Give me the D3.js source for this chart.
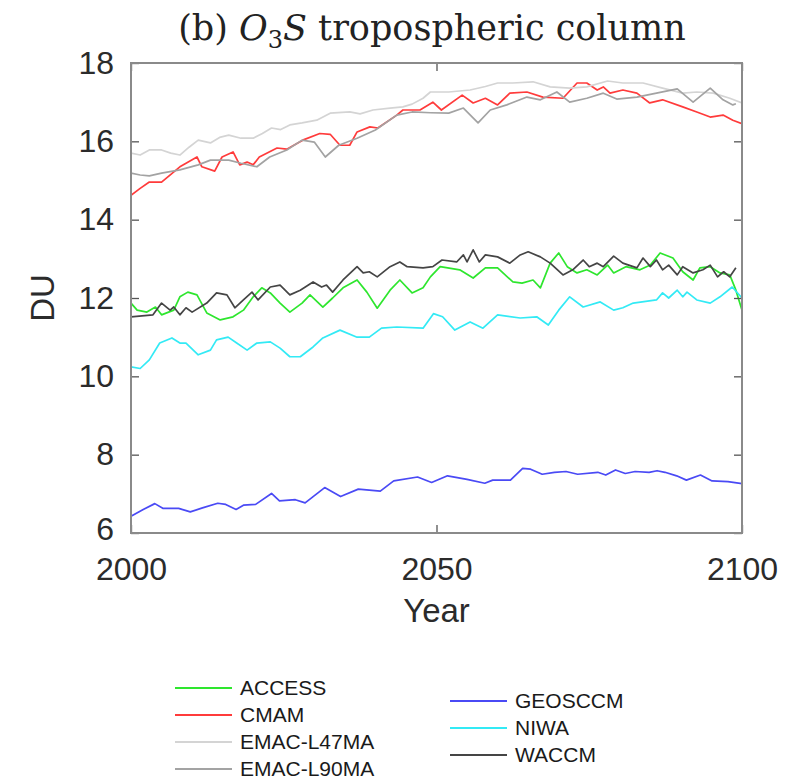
<!DOCTYPE html>
<html>
<head>
<meta charset="utf-8">
<script src="https://cdn.jsdelivr.net/npm/d3@7"></script>
<style>
  html, body { margin: 0; padding: 0; background: #fff; }
  svg { display: block; }
</style>
</head>
<body>
<svg id="chart"></svg>
<script>
// [year, DU]
var access = [[2000,11.87],[2001,11.69],[2002.6,11.64],[2004,11.77],[2005,11.57],[2007,11.69],[2008,12.03],[2009.3,12.15],[2010.8,12.08],[2012.4,11.62],[2014.6,11.44],[2016.7,11.52],[2018.4,11.69],[2020,12.03],[2021.4,12.26],[2022.8,12.13],[2024.4,11.87],[2026,11.64],[2028,11.87],[2029.3,12.08],[2031.4,11.77],[2033,12.0],[2034.7,12.26],[2037,12.46],[2038.6,12.15],[2040.3,11.74],[2042.4,12.2],[2044,12.46],[2046,12.13],[2047.8,12.26],[2049,12.54],[2050.6,12.8],[2053.8,12.72],[2056,12.51],[2058,12.77],[2060,12.77],[2062.5,12.41],[2064,12.38],[2065.8,12.46],[2067,12.26],[2068.6,12.89],[2070,13.15],[2071.4,12.8],[2073,12.64],[2074.6,12.72],[2076.3,12.59],[2078,12.84],[2079,12.64],[2081,12.8],[2083.3,12.72],[2085,12.84],[2086.6,13.15],[2088.7,13.02],[2090.3,12.67],[2092,12.46],[2093.1,12.77],[2094.8,12.8],[2096.4,12.64],[2098,12.59],[2099,12.2],[2100,11.69]];

var cmam = [[2000,14.62],[2001.5,14.8],[2003,14.96],[2005,14.96],[2008,15.35],[2010.8,15.6],[2011.6,15.35],[2013.7,15.24],[2014.9,15.6],[2016.7,15.73],[2017.8,15.4],[2019,15.47],[2020,15.4],[2021,15.6],[2023.9,15.83],[2025.5,15.8],[2028.1,16.03],[2030.9,16.2],[2032.6,16.18],[2034.2,15.9],[2035.8,15.9],[2037,16.24],[2039.1,16.37],[2040.4,16.34],[2043.5,16.67],[2044.5,16.8],[2047.3,16.8],[2049.4,17.0],[2050.8,16.8],[2054.2,17.18],[2056,16.98],[2058,17.1],[2060,16.93],[2062,17.23],[2064.8,17.26],[2067.4,17.13],[2070.7,17.1],[2073,17.49],[2074.6,17.49],[2076.3,17.31],[2077.3,17.39],[2078.4,17.23],[2080.5,17.31],[2082.8,17.23],[2084.9,16.98],[2087,17.06],[2090.3,16.88],[2092.6,16.75],[2094.8,16.62],[2096.9,16.67],[2098.5,16.54],[2100,16.45]];

var emacL47 = [[2000,15.7],[2001.5,15.65],[2003,15.78],[2005,15.78],[2006.5,15.7],[2008,15.65],[2009.5,15.85],[2011,16.03],[2013,15.96],[2014.5,16.1],[2016,16.16],[2018,16.08],[2020,16.08],[2021.5,16.2],[2023,16.34],[2024.5,16.3],[2026,16.42],[2028,16.47],[2030.4,16.54],[2032.6,16.72],[2035.8,16.75],[2037.5,16.7],[2039.6,16.8],[2042.4,16.85],[2044.5,16.88],[2046,16.95],[2047.8,17.1],[2049,17.26],[2052,17.26],[2055.5,17.31],[2058,17.4],[2060,17.49],[2062.5,17.49],[2065.8,17.52],[2068.6,17.39],[2071.8,17.36],[2074.6,17.39],[2078,17.54],[2080.5,17.49],[2083.8,17.49],[2087,17.36],[2090.3,17.23],[2092.6,17.26],[2095.3,17.23],[2098,17.1],[2100,16.98]];

var emacL90 = [[2000,15.19],[2001.5,15.14],[2003,15.12],[2005,15.19],[2008,15.27],[2011,15.4],[2013,15.52],[2016,15.52],[2018,15.44],[2020.6,15.35],[2022.7,15.6],[2025.5,15.78],[2028,16.03],[2030,15.98],[2031.8,15.6],[2034,15.9],[2037,16.08],[2040,16.29],[2043.5,16.67],[2046,16.75],[2049,16.73],[2052,16.72],[2054.4,16.85],[2056.8,16.47],[2058.8,16.8],[2061.5,16.93],[2064.8,17.13],[2067,17.06],[2069.7,17.26],[2071.8,17.0],[2074.6,17.1],[2077.3,17.23],[2079.5,17.08],[2082.8,17.13],[2086,17.23],[2089.4,17.34],[2092,17.0],[2094.8,17.36],[2096.9,17.06],[2098.5,16.93],[2099,16.96]];

var geosccm = [[2000,6.43],[2002,6.6],[2003.9,6.75],[2005.2,6.63],[2007.8,6.63],[2009.7,6.54],[2011.7,6.64],[2014.2,6.76],[2015.5,6.73],[2017.2,6.6],[2018.4,6.71],[2020.4,6.73],[2023,7.01],[2024.3,6.82],[2026.9,6.85],[2028.5,6.77],[2031.7,7.16],[2034.3,6.93],[2037.2,7.12],[2040.8,7.07],[2043,7.33],[2046.9,7.43],[2049.2,7.29],[2051.8,7.46],[2055,7.37],[2057.9,7.27],[2059.2,7.35],[2062.1,7.35],[2064.1,7.65],[2065.4,7.63],[2067.3,7.5],[2069.3,7.55],[2071.2,7.57],[2073.1,7.5],[2076.4,7.55],[2077.7,7.48],[2079.3,7.61],[2080.9,7.52],[2082.5,7.57],[2084.8,7.55],[2086.1,7.59],[2087.4,7.55],[2089.3,7.46],[2090.9,7.35],[2093.2,7.48],[2095.1,7.33],[2097.7,7.31],[2100,7.26]];

var niwa = [[2000,10.24],[2001.5,10.2],[2003,10.42],[2004.7,10.85],[2006.7,10.98],[2008,10.85],[2009,10.85],[2011,10.55],[2013,10.67],[2014,10.93],[2015.9,11.0],[2017.3,10.85],[2019,10.67],[2020.6,10.85],[2022.8,10.88],[2024.4,10.72],[2026,10.5],[2027.7,10.5],[2029.8,10.75],[2031.4,10.98],[2034.2,11.18],[2037,11.0],[2039,11.0],[2041,11.23],[2043.5,11.26],[2047.8,11.23],[2049.5,11.6],[2051,11.52],[2053,11.18],[2055.5,11.39],[2057.6,11.23],[2060,11.57],[2063.7,11.49],[2066.4,11.52],[2068.3,11.31],[2070,11.69],[2071.8,12.03],[2074,11.77],[2076.8,11.9],[2079,11.69],[2080.5,11.75],[2082.2,11.87],[2086,11.95],[2087,12.13],[2088,12.0],[2089.4,12.2],[2090.3,12.03],[2091,12.15],[2092.6,11.95],[2094.8,11.87],[2096.4,12.03],[2098.4,12.28],[2100,12.0]];

var waccm = [[2000,11.52],[2003.6,11.57],[2005,11.87],[2006.4,11.69],[2007,11.77],[2008,11.57],[2009,11.75],[2010,11.64],[2012.4,11.87],[2014,12.13],[2015.7,12.08],[2017,11.75],[2018.4,11.95],[2019.8,12.15],[2020.8,11.95],[2022.8,12.28],[2024.4,12.33],[2026,12.08],[2027.7,12.2],[2029.8,12.41],[2031.2,12.28],[2032,12.33],[2033,12.15],[2034.7,12.46],[2037,12.8],[2038,12.64],[2039,12.67],[2040.3,12.54],[2042.4,12.8],[2044,12.92],[2045.2,12.8],[2047.8,12.77],[2049.4,12.8],[2050.9,12.97],[2053.3,12.92],[2054.4,13.1],[2055,12.92],[2056,13.23],[2057,12.92],[2058,13.1],[2060,13.05],[2062,12.89],[2063.7,13.1],[2065,13.18],[2067,13.05],[2068.6,12.89],[2070.7,12.59],[2072.3,12.72],[2074,12.97],[2075,12.8],[2076.3,12.89],[2077.3,12.8],[2079,13.07],[2080.5,12.89],[2082.8,12.77],[2083.8,13.02],[2085,12.8],[2086,12.97],[2087,12.72],[2088,12.84],[2089.4,12.59],[2090.3,12.8],[2092,12.64],[2093.6,12.72],[2094.8,12.84],[2096,12.54],[2097,12.67],[2098,12.54],[2099,12.77]];

var seriesNames = ["ACCESS", "CMAM", "EMAC-L47MA", "EMAC-L90MA", "GEOSCCM", "NIWA", "WACCM"];
var seriesData = [access, cmam, emacL47, emacL90, geosccm, niwa, waccm];
var seriesColors = ["#2ee62e", "#ff3b3b", "#d4d4d4", "#a3a3a3", "#4a4af5", "#33eaf5", "#454545"];

var yTicks = [6, 8, 10, 12, 14, 16, 18];
var xTicks = [2000, 2050, 2100];

var W = 798, H = 781;
var margin = {top: 63, right: 56, bottom: 248, left: 131};
var width = W - margin.left - margin.right;
var height = H - margin.top - margin.bottom;

var svg = d3.select("#chart")
    .attr("width", W)
    .attr("height", H);

var x = d3.scaleLinear().domain([2000, 2100]).range([0, width]);
var y = d3.scaleLinear().domain([6, 18]).range([height, 0]);

var g = svg.append("g")
    .attr("transform", "translate(" + margin.left + "," + margin.top + ")");

g.append("clipPath").attr("id", "plotclip")
  .append("rect").attr("width", width).attr("height", height);

var line = d3.line()
    .x(d => x(d[0]))
    .y(d => y(d[1]));

var lines = g.append("g").attr("clip-path", "url(#plotclip)");
seriesData.forEach(function(data, i){
  lines.append("path")
    .datum(data)
    .attr("d", line)
    .style("fill", "none")
    .style("stroke", seriesColors[i])
    .style("stroke-width", 1.7)
    .style("stroke-linejoin", "round");
});

// matlab-ish box with inward ticks on all sides
var axisColor = "#8a8a8a";
var tickFont = "'Liberation Sans', Arial, sans-serif";

var yLeft = g.append("g").call(d3.axisLeft(y).tickValues(yTicks).tickSize(-8).tickPadding(17));
var yRight = g.append("g").attr("transform", "translate(" + width + ",0)")
    .call(d3.axisRight(y).tickValues(yTicks).tickSize(-8).tickFormat(""));
var xBottom = g.append("g").attr("transform", "translate(0," + height + ")")
    .call(d3.axisBottom(x).tickValues(xTicks).tickSize(-8).tickPadding(24).tickFormat(d3.format("d")));
var xTop = g.append("g")
    .call(d3.axisTop(x).tickValues(xTicks).tickSize(-8).tickFormat(""));

[yLeft, yRight, xBottom, xTop].forEach(function(a){
  a.select(".domain").remove();
  a.selectAll(".tick line").attr("stroke", "#555").attr("stroke-width", 1.3);
  a.selectAll("text")
    .style("font-family", tickFont)
    .style("font-size", "32px")
    .attr("fill", "#2b2b2b");
});
// the "6" sits just above the year labels, nudge it up a bit
yLeft.selectAll(".tick").filter(d => d === 6).select("text").attr("dy", "0.2em");

g.append("rect")
  .attr("width", width)
  .attr("height", height)
  .style("fill", "none")
  .style("stroke", axisColor)
  .style("stroke-width", 2);

// axis labels
svg.append("text")
  .attr("transform", "translate(54," + (margin.top + y(12)) + ") rotate(-90)")
  .attr("text-anchor", "middle")
  .style("font-family", tickFont)
  .style("font-size", "33px")
  .attr("fill", "#2b2b2b")
  .text("DU");

svg.append("text")
  .attr("x", margin.left + x(2050))
  .attr("y", 622)
  .attr("text-anchor", "middle")
  .style("font-family", tickFont)
  .style("font-size", "33px")
  .attr("fill", "#2b2b2b")
  .text("Year");

// title
var title = svg.append("text")
  .attr("x", 432)
  .attr("y", 40)
  .attr("text-anchor", "middle")
  .style("font-family", "'DejaVu Serif', 'Liberation Serif', serif")
  .style("font-size", "35px")
  .attr("fill", "#222");
title.append("tspan").text("(b) ");
title.append("tspan").style("font-style", "italic").text("O");
title.append("tspan").attr("dy", 8).style("font-size", "24px").text("3");
title.append("tspan").attr("dy", -8).style("font-style", "italic").text("S");
title.append("tspan").text(" tropospheric column");

// legend, two columns
var legendCols = [
  {x: 175, y: 688, items: [0, 1, 2, 3]},
  {x: 450, y: 701, items: [4, 5, 6]}
];
legendCols.forEach(function(col){
  col.items.forEach(function(idx, k){
    var ly = col.y + k * 27;
    svg.append("line")
      .attr("x1", col.x).attr("x2", col.x + 57)
      .attr("y1", ly).attr("y2", ly)
      .style("stroke", seriesColors[idx])
      .style("stroke-width", 2);
    svg.append("text")
      .attr("x", col.x + 65)
      .attr("y", ly)
      .attr("dy", "0.35em")
      .style("font-family", tickFont)
      .style("font-size", "21px")
      .attr("fill", "#1a1a1a")
      .text(seriesNames[idx]);
  });
});
</script>
</body>
</html>
